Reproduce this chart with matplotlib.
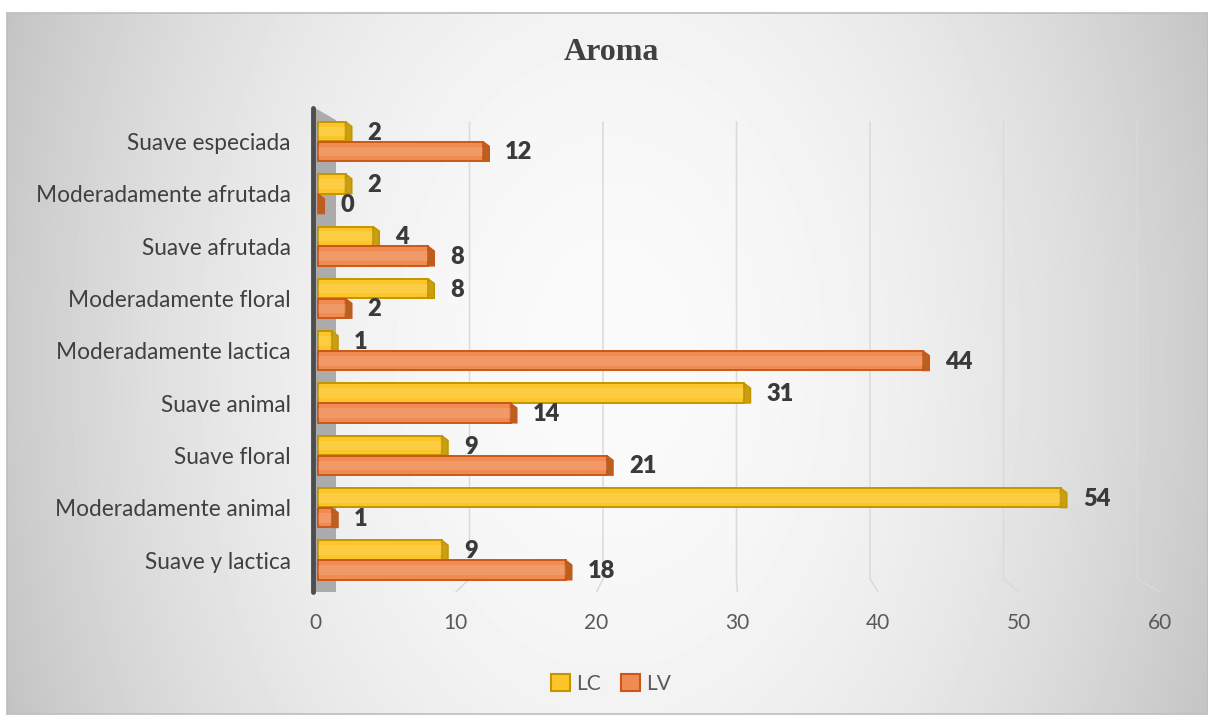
import matplotlib
matplotlib.use("Agg")
import matplotlib.pyplot as plt
from matplotlib.patches import Rectangle, Polygon, Patch
import numpy as np

# DATA
categories = ["Suave y lactica", "Moderadamente animal", "Suave floral", "Suave animal",
              "Moderadamente lactica", "Moderadamente floral", "Suave afrutada",
              "Moderadamente afrutada", "Suave especiada"]
lc = [9, 54, 9, 31, 1, 8, 4, 2, 2]
lv = [18, 1, 21, 14, 44, 2, 8, 0, 12]
series_names = ["LC", "LV"]
xticks = [0, 10, 20, 30, 40, 50, 60]

# STYLE
W, H = 1208, 715
lc_face, lc_cap, lc_edge = "#FCC62A", "#C9A012", "#C39500"
lv_face, lv_cap, lv_edge = "#F08C52", "#B8601F", "#C9581A"
text_col = "#404040"
tick_col = "#595959"

plt.rcParams["font.family"] = ["Lato", "DejaVu Sans"]
fig = plt.figure(figsize=(W / 100, H / 100), dpi=100)

# background panel with radial shading
bg = fig.add_axes([7 / W, 1 / H, 1201 / W, 701 / H], zorder=-5)
xx, yy = np.meshgrid(np.arange(1201) + 7, np.arange(701) + 13)
r = np.sqrt(((xx - 610) / 620.0) ** 2 + ((yy - 360) / 900.0) ** 2)
shade = np.clip(250 - 50 * r ** 2.0, 195, 255)
bg.imshow(shade, cmap="gray", vmin=0, vmax=255, aspect="auto", interpolation="bilinear")
bg.set_xticks([])
bg.set_yticks([])
for s in bg.spines.values():
    s.set_color("#bdbdbd")
    s.set_linewidth(1.2)

# plot area (value 0 sits at x=318 px)
zero_px, bottom_px, top_px = 318, 592, 108
xmin, xmax = -0.3, 61.5
px_per_unit = 13.75
left_px = zero_px + xmin * px_per_unit
ax = fig.add_axes([left_px / W, (H - bottom_px) / H, (xmax - xmin) * px_per_unit / W,
                   (bottom_px - top_px) / H])
ax.patch.set_alpha(0)
ax.set_xlim(xmin, xmax)
ax.set_ylim(-0.61, 8.64)
for s in ax.spines.values():
    s.set_visible(False)

# front floor scale for tick labels (perspective)
def to_floor(v):
    return (v * px_per_unit + 3) / 14.08

def from_floor(s):
    return (s * 14.08 - 3) / px_per_unit

ax.set_xticks([])
sec = ax.secondary_xaxis("bottom", functions=(to_floor, from_floor))
sec.set_xticks(xticks)
sec.tick_params(length=0, pad=15, labelsize=15, labelcolor=tick_col)
sec.spines["bottom"].set_visible(False)

# gridlines: back wall position, then slanting to the floor front
xt = ax.get_xaxis_transform()
for v in xticks[1:]:
    xb = (336 + 13.35 * v - zero_px) / px_per_unit
    xf = from_floor(v)
    ax.plot([xb, xb, xf], [0.971, 0.027, 0.0], transform=xt, color="#dadada", lw=1.1, zorder=1)

# side wall
ax.add_patch(Polygon([(-3 / px_per_unit, 1.0), (18 / px_per_unit, 0.975), (18 / px_per_unit, 0.0),
                      (-3 / px_per_unit, 0.0)], closed=True, transform=xt,
                     fc="#ababab", ec="none", zorder=1.5, clip_on=False))
ax.plot([-5 / px_per_unit, -5 / px_per_unit], [0.0, 1.0], transform=xt, color="#4d4d4d",
        lw=3.5, solid_capstyle="round", zorder=2, clip_on=False)

bar_h = 0.37
dx = 0.45
dyt = 0.09

def bar3d(y, w, face, cap, edge):
    yb, yt = y - bar_h / 2, y + bar_h / 2
    if w > 0:
        ax.add_patch(Rectangle((0, yb), w, bar_h, fc=face, ec=edge, lw=1.4, zorder=3))
        # lighter strip along the front face
        ax.add_patch(Rectangle((0, yb + bar_h * 0.25), w, bar_h * 0.5, fc="white", alpha=0.12,
                               ec="none", zorder=3.1))
    ax.add_patch(Polygon([(w, yb), (w, yt), (w + dx, yt - dyt), (w + dx, yb)], closed=True,
                         fc=cap, ec=edge, lw=1.2, zorder=3))

ypos = np.arange(len(categories))
for i, y in enumerate(ypos):
    bar3d(y + 0.19, lc[i], lc_face, lc_cap, lc_edge)
    bar3d(y - 0.19, lv[i], lv_face, lv_cap, lv_edge)
    ax.annotate(str(lc[i]), (lc[i], y + 0.17), xytext=(16, 0), textcoords="offset points",
                ha="left", va="center", fontsize=17, fontweight="heavy", color="#3a3a3a", zorder=4)
    ax.annotate(str(lv[i]), (lv[i], y - 0.21), xytext=(16, 0), textcoords="offset points",
                ha="left", va="center", fontsize=17, fontweight="heavy", color="#3a3a3a", zorder=4)

ax.set_yticks(ypos)
ax.set_yticklabels(categories)
ax.tick_params(axis="y", length=0, pad=16.5, labelsize=16.3, labelcolor=text_col)

# title
fig.text(611 / W, 1 - 53 / H, "Aroma", ha="center", va="center", fontsize=23, fontweight="bold",
         color=text_col, family="Liberation Serif")

# legend
handles = [Patch(fc=lc_face, ec=lc_edge, lw=1.5, label=series_names[0]),
           Patch(fc=lv_face, ec=lv_edge, lw=1.5, label=series_names[1])]
leg = fig.legend(handles=handles, loc="center", bbox_to_anchor=(611 / W, 1 - 684 / H), ncol=2,
                 fontsize=15, frameon=True, handlelength=0.9, handleheight=0.9, handletextpad=0.3,
                 columnspacing=1.0, borderpad=0.6, fancybox=False)
leg.get_frame().set_facecolor("#f4f4f4")
leg.get_frame().set_edgecolor("none")
for t in leg.get_texts():
    t.set_color(tick_col)

fig.savefig("out.png", dpi=100)
